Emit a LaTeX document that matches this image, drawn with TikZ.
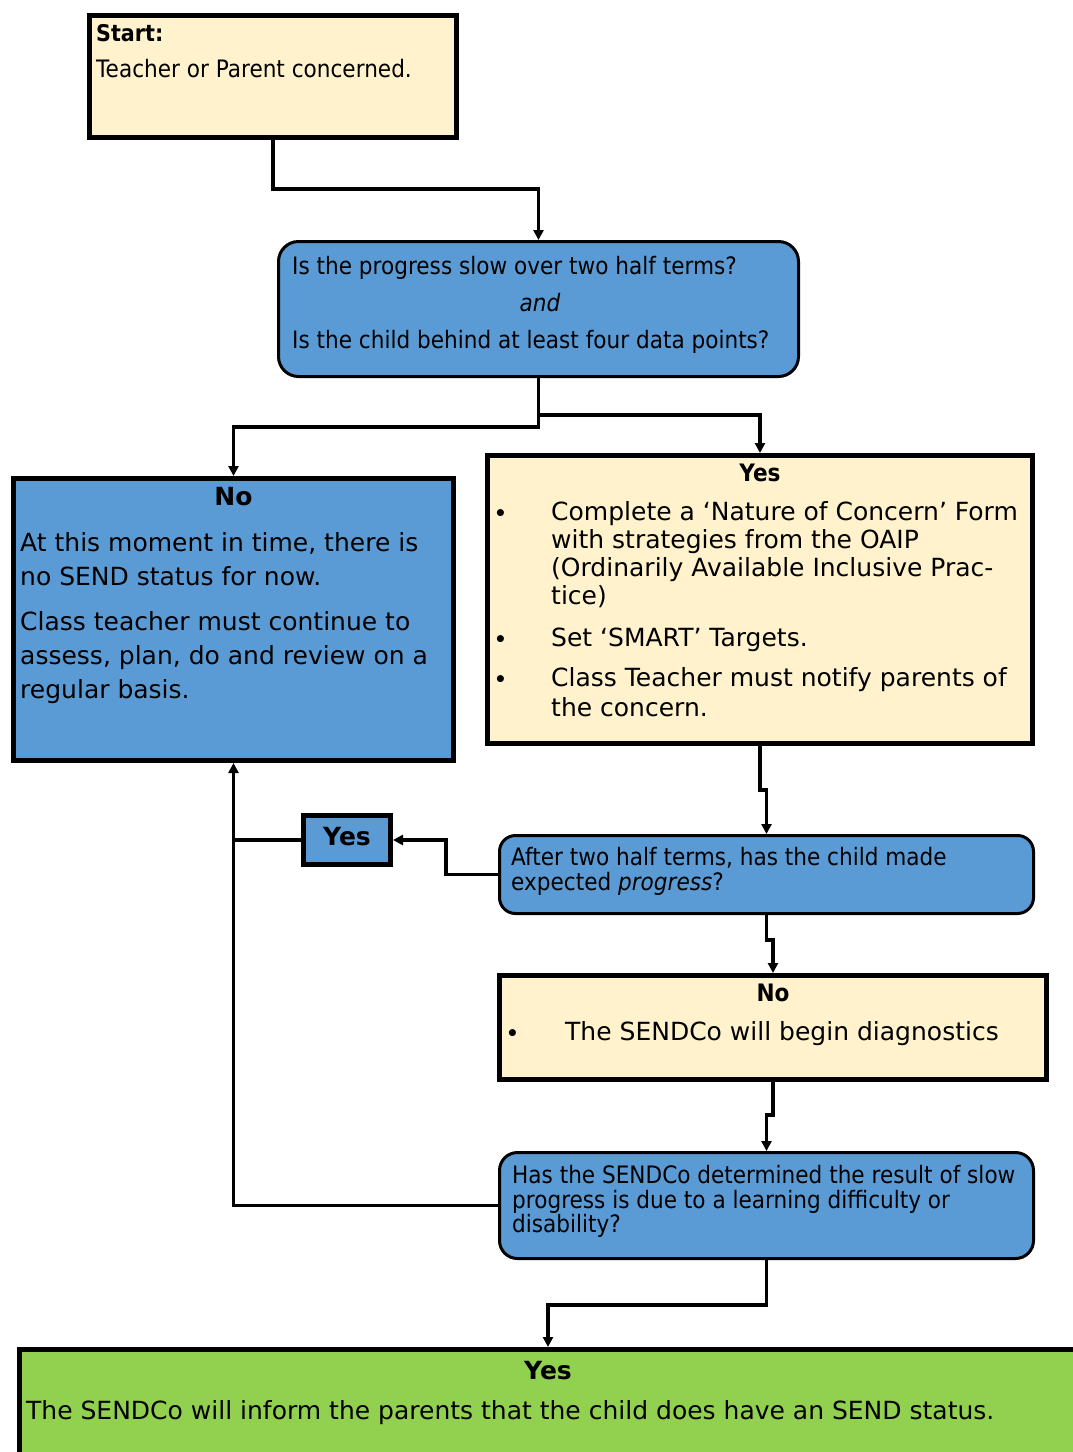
\documentclass[tikz,border=0pt]{standalone}
\usepackage{fontspec}
\setmainfont{DejaVu Sans}
\newfontfamily\tah{DejaVu Sans}[FakeStretch=0.9]
\usetikzlibrary{arrows.meta}
\definecolor{cream}{HTML}{FFF2CC}
\definecolor{boxblue}{HTML}{5B9BD5}
\definecolor{boxgreen}{HTML}{92D050}
\tikzset{
  sqbox/.style={draw=black, line width=5pt, inner sep=0pt},
  rbox/.style={draw=black, line width=3pt, rounded corners=20pt, fill=boxblue, inner sep=0pt},
  conn/.style={line width=3.2pt, draw=black},
  arr/.style={conn, -{Triangle[length=10pt,width=10pt]}},
  tt/.style={inner sep=0pt, anchor=base west, font=\tah\fontsize{24}{25}\selectfont},
  vt/.style={inner sep=0pt, anchor=base west, font=\fontsize{25}{30}\selectfont},
  bul/.style={inner sep=0pt, anchor=base west, font=\bfseries\fontsize{20}{24}\selectfont},
}
\begin{document}
\begin{tikzpicture}[x=1pt,y=-1pt]
\useasboundingbox (0,0) rectangle (1072,1452);
% boxes (anchors at outer edges)
\node[sqbox, fill=cream, minimum width=367pt, minimum height=122pt, anchor=north west] (start) at (87,13) {};
\node[rbox, minimum width=520pt, minimum height=135pt, anchor=north west] (q1) at (277,240) {};
\node[sqbox, fill=boxblue, minimum width=440pt, minimum height=282pt, anchor=north west] (no) at (11,476) {};
\node[sqbox, fill=cream, minimum width=545pt, minimum height=288pt, anchor=north west] (yes) at (485,453) {};
\node[sqbox, fill=boxblue, minimum width=87pt, minimum height=49pt, anchor=north west] (yessm) at (301,813) {};
\node[rbox, rounded corners=16pt, minimum width=534pt, minimum height=78pt, anchor=north west] (q2) at (498,834) {};
\node[sqbox, fill=cream, minimum width=547pt, minimum height=104pt, anchor=north west] (no2) at (497,973) {};
\node[rbox, rounded corners=18pt, minimum width=534pt, minimum height=106pt, anchor=north west] (q3) at (498,1151) {};
\node[sqbox, fill=boxgreen, minimum width=1057pt, minimum height=120pt, anchor=north west] (green) at (17,1347) {};

% texts
\node[tt, font=\tah\bfseries\fontsize{23}{25}\selectfont] (s1) at (96,41) {Start:};
\node[tt] (s2) at (96,77) {Teacher or Parent concerned.};

\node[tt] (a1) at (292,274) {Is the progress slow over two half terms?};
\node[inner sep=0pt, anchor=base, font=\tah\itshape\fontsize{24}{25}\selectfont] (a2) at (540,311) {and};
\node[tt] (a3) at (292,348) {Is the child behind at least four data points?};

\node[inner sep=0pt, anchor=base, font=\bfseries\fontsize{25}{30}\selectfont] (n0) at (233.5,505) {No};
\node[vt] (n1) at (20,551) {At this moment in time, there is};
\node[vt] (n2) at (20,585) {no SEND status for now.};
\node[vt] (n3) at (20,630) {Class teacher must continue to};
\node[vt] (n4) at (20,664) {assess, plan, do and review on a};
\node[vt] (n5) at (20,698) {regular basis.};

\node[inner sep=0pt, anchor=base, font=\tah\bfseries\fontsize{24}{25}\selectfont] (y0) at (760,481) {Yes};
\node[bul] (yb1) at (494,520) {•};
\node[vt] (y1) at (551,520) {Complete a ‘Nature of Concern’ Form};
\node[vt] (y2) at (551,548) {with strategies from the OAIP};
\node[vt] (y3) at (551,576) {(Ordinarily Available Inclusive Prac-};
\node[vt] (y4) at (551,604) {tice)};
\node[bul] (yb2) at (494,646) {•};
\node[vt] (y5) at (551,646) {Set ‘SMART’ Targets.};
\node[bul] (yb3) at (494,686) {•};
\node[vt] (y6) at (551,686) {Class Teacher must notify parents of};
\node[vt] (y7) at (551,716) {the concern.};

\node[inner sep=0pt, anchor=base, font=\bfseries\fontsize{25}{30}\selectfont] (ys) at (347,845) {Yes};

\node[tt] (b1) at (511,865) {After two half terms, has the child made};
\node[tt] (b2) at (511,890) {expected {\itshape progress}?};

\node[inner sep=0pt, anchor=base, font=\tah\bfseries\fontsize{24}{25}\selectfont] (c0) at (773,1001) {No};
\node[bul] (cb) at (506,1040) {•};
\node[vt] (c1) at (565,1040) {The SENDCo will begin diagnostics};

\node[tt] (d1) at (512,1183) {Has the SENDCo determined the result of slow};
\node[tt] (d2) at (512,1208) {progress is due to a learning difficulty or};
\node[tt] (d3) at (512,1232) {disability?};

\node[inner sep=0pt, anchor=base, font=\bfseries\fontsize{25}{30}\selectfont] (g0) at (548,1379) {Yes};
\node[vt] (g1) at (26,1419) {The SENDCo will inform the parents that the child does have an SEND status.};

% connectors
\draw[arr] (start.south) -- ++(0,49) -| (q1.north);
\draw[arr] (q1.south) -- ++(0,49) -| (no.north);
\draw[arr] (q1.south) -- ++(0,37) -| (yes.north);
\draw[arr] (yes.south) -- ++(0,44) -| (q2.north);
\draw[arr] (q2.south) -- ++(0,25) -| (no2.north);
\draw[arr] (no2.south) -- ++(0,33) -| (q3.north);
\draw[arr] (q3.south) -- ++(0,45) -| (green.north);
\draw[arr] (q2.west) -- ++(-52,0) |- (yessm.east);
\coordinate (jn) at (no.south |- q3.west);
\draw[arr] (q3.west) -- (jn) -- (no.south);
\draw[conn] (yessm.west) -- (yessm.west -| no.south);
\end{tikzpicture}
\end{document}
